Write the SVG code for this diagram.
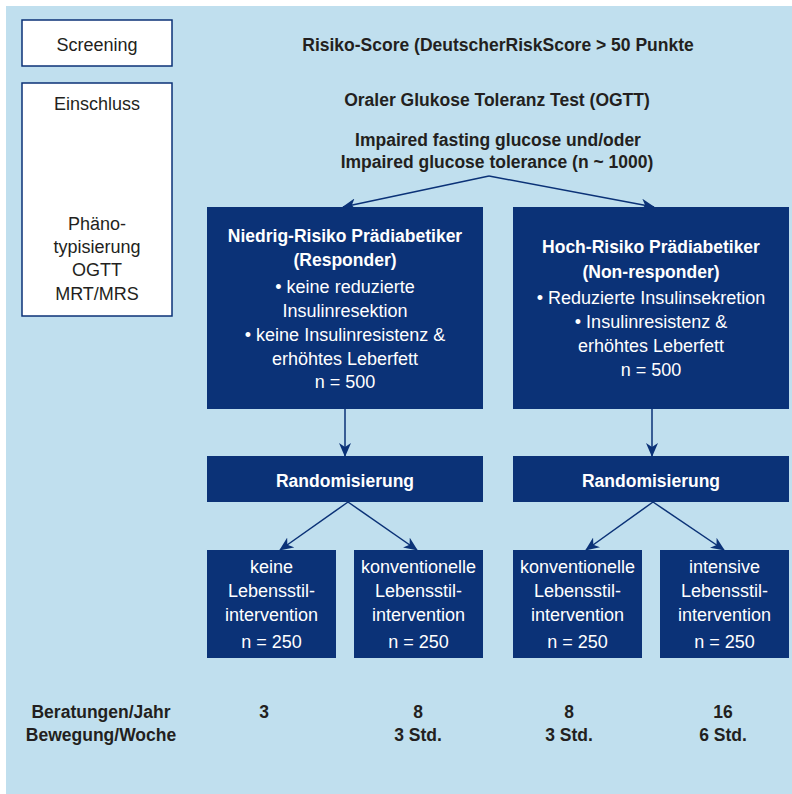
<svg xmlns="http://www.w3.org/2000/svg" width="792" height="794" viewBox="0 0 792 794">
<defs>
<style>
.bg{fill:#c0dfee}
.wbox{fill:#ffffff;stroke:#0b3277;stroke-width:1.5}
.dbox{fill:#0b3277}
.t{font-family:"Liberation Sans",Arial,sans-serif;font-size:18px;text-anchor:middle}
.dk{fill:#231f20}
.wt{fill:#ffffff}
.b{font-weight:bold;font-size:17.5px}
.conn{stroke:#0b3277;stroke-width:1.5;fill:none;marker-end:url(#ah)}
</style>
<marker id="ah" viewBox="0 0 14 12" refX="13" refY="6" markerWidth="14" markerHeight="12" markerUnits="userSpaceOnUse" orient="auto">
<path d="M0,0 L14,6 L0,12 L4,6 Z" fill="#0b3277"/>
</marker>
</defs>
<rect class="bg" x="6" y="6" width="786" height="788"/>

<g id="screening">
<rect class="wbox" x="22" y="20" width="150" height="46"/>
<text class="t dk" x="97" y="51">Screening</text>
</g>
<g id="einschluss">
<rect class="wbox" x="22" y="83" width="150" height="233"/>
<text class="t dk" x="97" y="110">Einschluss</text>
<text class="t dk" x="97" y="230">Phäno-</text>
<text class="t dk" x="97" y="253">typisierung</text>
<text class="t dk" x="97" y="276">OGTT</text>
<text class="t dk" x="97" y="300">MRT/MRS</text>
</g>
<g id="risiko">
<text class="t b dk" x="498" y="51">Risiko-Score (DeutscherRiskScore &gt; 50 Punkte</text>
</g>
<g id="ogtt">
<text class="t b dk" x="497" y="106">Oraler Glukose Toleranz Test (OGTT)</text>
<text class="t b dk" x="498" y="146">Impaired fasting glucose und/oder</text>
<text class="t b dk" x="497" y="168">Impaired glucose tolerance (n ~ 1000)</text>
</g>

<g id="niedrig">
<rect class="dbox" x="207" y="207" width="276" height="202"/>
<text class="t b wt" x="345" y="242">Niedrig-Risiko Prädiabetiker</text>
<text class="t b wt" x="345" y="266">(Responder)</text>
<text class="t wt" x="345" y="293">• keine reduzierte</text>
<text class="t wt" x="345" y="317">Insulinresektion</text>
<text class="t wt" x="345" y="341">• keine Insulinresistenz &amp;</text>
<text class="t wt" x="345" y="365">erhöhtes Leberfett</text>
<text class="t wt" x="345" y="388">n = 500</text>
</g>
<g id="hoch">
<rect class="dbox" x="513" y="207" width="276" height="202"/>
<text class="t b wt" x="651" y="253">Hoch-Risiko Prädiabetiker</text>
<text class="t b wt" x="651" y="278">(Non-responder)</text>
<text class="t wt" x="651" y="304">• Reduzierte Insulinsekretion</text>
<text class="t wt" x="651" y="328">• Insulinresistenz &amp;</text>
<text class="t wt" x="651" y="352">erhöhtes Leberfett</text>
<text class="t wt" x="651" y="376">n = 500</text>
</g>
<g id="rand1">
<rect class="dbox" x="207" y="456" width="276" height="46"/>
<text class="t b wt" x="345" y="487">Randomisierung</text>
</g>
<g id="rand2">
<rect class="dbox" x="513" y="456" width="276" height="46"/>
<text class="t b wt" x="651" y="487">Randomisierung</text>
</g>
<g id="arm1">
<rect class="dbox" x="207" y="550" width="129" height="108"/>
<text class="t wt" x="271.5" y="573">keine</text>
<text class="t wt" x="271.5" y="597">Lebensstil-</text>
<text class="t wt" x="271.5" y="621">intervention</text>
<text class="t wt" x="271.5" y="648">n = 250</text>
</g>
<g id="arm2">
<rect class="dbox" x="354" y="550" width="129" height="108"/>
<text class="t wt" x="418.5" y="573">konventionelle</text>
<text class="t wt" x="418.5" y="597">Lebensstil-</text>
<text class="t wt" x="418.5" y="621">intervention</text>
<text class="t wt" x="418.5" y="648">n = 250</text>
</g>
<g id="arm3">
<rect class="dbox" x="513" y="550" width="129" height="108"/>
<text class="t wt" x="577.5" y="573">konventionelle</text>
<text class="t wt" x="577.5" y="597">Lebensstil-</text>
<text class="t wt" x="577.5" y="621">intervention</text>
<text class="t wt" x="577.5" y="648">n = 250</text>
</g>
<g id="arm4">
<rect class="dbox" x="660" y="550" width="129" height="108"/>
<text class="t wt" x="724.5" y="573">intensive</text>
<text class="t wt" x="724.5" y="597">Lebensstil-</text>
<text class="t wt" x="724.5" y="621">intervention</text>
<text class="t wt" x="724.5" y="648">n = 250</text>
</g>

<g id="table">
<text class="t b dk" x="101" y="718">Beratungen/Jahr</text>
<text class="t b dk" x="101" y="741">Bewegung/Woche</text>
<text class="t b dk" x="264" y="718">3</text>
<text class="t b dk" x="418" y="718">8</text>
<text class="t b dk" x="418" y="741">3 Std.</text>
<text class="t b dk" x="569" y="718">8</text>
<text class="t b dk" x="569" y="741">3 Std.</text>
<text class="t b dk" x="723" y="718">16</text>
<text class="t b dk" x="723" y="741">6 Std.</text>
</g>

<g id="connectors">
<path class="conn" d="M489,176 L343,207"/>
<path class="conn" d="M489,176 L654,207"/>
<path class="conn" d="M345,409 L345,456"/>
<path class="conn" d="M652,409 L652,456"/>
<path class="conn" d="M348,502 L280,550"/>
<path class="conn" d="M348,502 L417,550"/>
<path class="conn" d="M653,502 L586,550"/>
<path class="conn" d="M653,502 L724,550"/>
</g>
</svg>
